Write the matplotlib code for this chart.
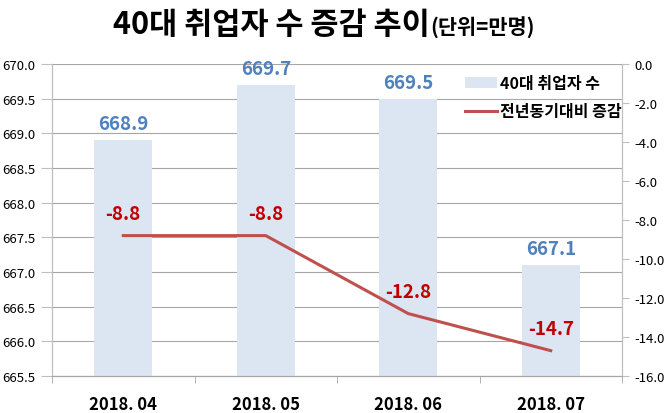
import matplotlib
matplotlib.use("Agg")
import matplotlib.pyplot as plt
import numpy as np

plt.rcParams['font.family'] = ['Noto Sans CJK KR', 'DejaVu Sans']

# data
months = ['2018. 04', '2018. 05', '2018. 06', '2018. 07']
workers = [668.9, 669.7, 669.5, 667.1]      # 40대 취업자 수 (만명)
change = [-8.8, -8.8, -12.8, -14.7]         # 전년동기대비 증감 (만명)
left_ticks = [665.5, 666.0, 666.5, 667.0, 667.5, 668.0, 668.5, 669.0, 669.5, 670.0]
right_ticks = [0.0, -2.0, -4.0, -6.0, -8.0, -10.0, -12.0, -14.0, -16.0]

bar_color = '#dce6f2'
bar_text = '#4f81bd'
line_color = '#c0504d'
line_text = '#c00000'
axis_gray = '#bfbfbf'

fig = plt.figure(figsize=(6.7, 4.14), dpi=100)
ax = fig.add_axes([52 / 670, 1 - 377 / 414, 570 / 670, 312 / 414])
x = np.arange(len(months))

ax.set_axisbelow(True)
ax.grid(axis='y', color='#a6a6a6', linewidth=0.8)
bars = ax.bar(x, workers, width=0.41, color=bar_color, label='40대 취업자 수', zorder=2)
ax.set_ylim(665.5, 670.0)
ax.set_xlim(-0.5, len(months) - 0.5)
ax.set_yticks(left_ticks)
ax.set_yticklabels([f'{v:.1f}' for v in left_ticks])
ax.set_xticks(x)
ax.set_xticklabels(months, fontsize=12, fontweight='bold')
ax.set_xticks(np.arange(-0.5, len(months), 1.0), minor=True)
ax.tick_params(axis='x', which='major', length=0, pad=14)
ax.tick_params(axis='x', which='minor', length=5, color='#a6a6a6', direction='out')
ax.tick_params(axis='y', length=8, color=axis_gray, labelsize=9.5, pad=4)

for b, v in zip(bars, workers):
    ax.annotate(f'{v:.1f}', (b.get_x() + b.get_width() / 2, v), xytext=(0, 5),
                textcoords='offset points', ha='center', va='bottom',
                fontsize=13.5, fontweight='bold', color=bar_text)

ax2 = ax.twinx()
ln, = ax2.plot(x, change, color=line_color, linewidth=2.2, label='전년동기대비 증감', zorder=3)
ax2.set_ylim(-16.0, 0.0)
ax2.set_yticks(right_ticks)
ax2.set_yticklabels([f'{v:.1f}' for v in right_ticks])
ax2.tick_params(axis='y', length=5, color=axis_gray, labelsize=9.5, pad=4)

for xi, v in zip(x, change):
    ax2.annotate(f'{v:.1f}', (xi, v), xytext=(0, 9), textcoords='offset points',
                 ha='center', va='bottom', fontsize=13.5, fontweight='bold', color=line_text)

for a in (ax, ax2):
    a.spines['top'].set_visible(False)
    a.spines['left'].set_color(axis_gray)
    a.spines['right'].set_color(axis_gray)
    a.spines['bottom'].set_color('#a6a6a6')

leg = ax2.legend([bars, ln], ['40대 취업자 수', '전년동기대비 증감'], loc='upper right',
                 bbox_to_anchor=(1.025, 1.01), frameon=False, handlelength=2.0,
                 handletextpad=0.2, labelspacing=0.75, prop={'size': 11.5, 'weight': 'bold'})

fig.text(0.642, 0.94, '40대 취업자 수 증감 추이', ha='right', va='center',
         fontsize=22, fontweight='bold')
fig.text(0.642, 0.932, '(단위=만명)', ha='left', va='center', fontsize=15, fontweight='bold')

fig.savefig('out.png', dpi=100)
